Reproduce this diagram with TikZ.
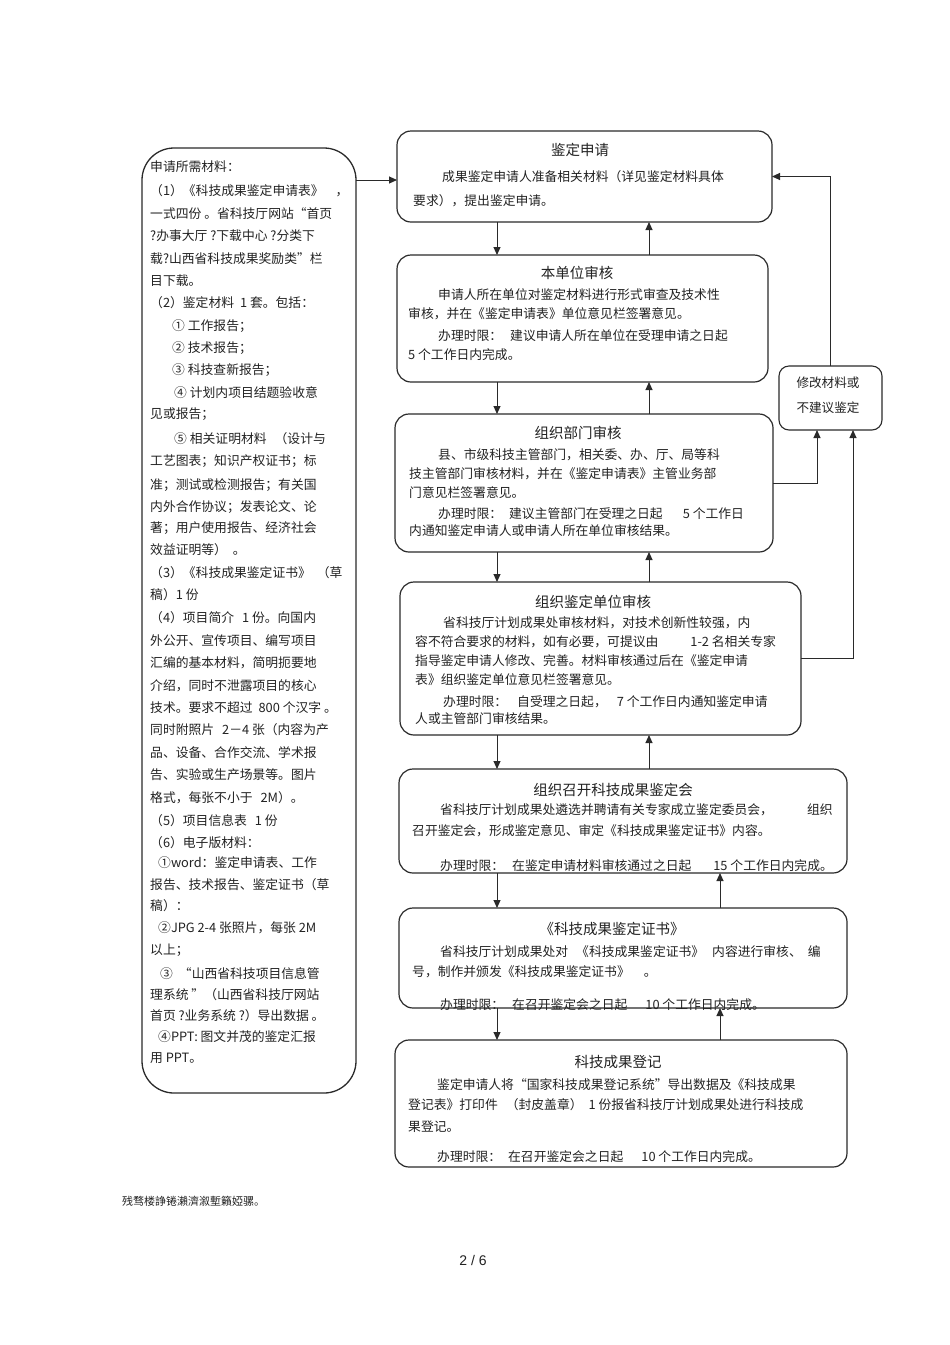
\documentclass[tikz,border=0pt]{standalone}
\usepackage{fontspec}
\setmainfont{Noto Sans CJK SC}
\newfontfamily\latfont{Liberation Sans}
\usetikzlibrary{arrows.meta}
\definecolor{ink}{HTML}{222222}
\definecolor{edge}{HTML}{2A2A2A}
\begin{document}
\begin{tikzpicture}[x=1pt,y=-1pt,
  rbox/.style={draw=edge,line width=1.2pt,rounded corners=14pt,inner sep=0pt,outer sep=0pt},
  sbox/.style={draw=edge,line width=1.1pt,rounded corners=10pt,inner sep=0pt,outer sep=0pt},
  lbox/.style={draw=edge,line width=1.3pt,rounded corners=32pt,inner sep=0pt,outer sep=0pt},
  bt/.style={anchor=west,inner sep=0pt,text=ink,font=\fontsize{12.8}{14}\selectfont},
  ttl/.style={anchor=center,inner sep=0pt,text=ink,font=\fontsize{14.5}{16}\selectfont},
  st/.style={anchor=center,inner sep=0pt,text=ink,font=\fontsize{12.6}{14}\selectfont},
  arr/.style={draw=edge,line width=1pt,-{Triangle[length=8pt,width=7pt]}}]
\useasboundingbox[fill=white] (0,0) rectangle (950,1345);

% boxes
\node[lbox,minimum width=214pt,minimum height=945pt] (left) at (249,620.5) {};
\node[rbox,minimum width=375pt,minimum height=91pt] (b1) at (584.5,176.5) {};
\node[rbox,minimum width=371pt,minimum height=127pt] (b2) at (582.5,318.5) {};
\node[rbox,minimum width=378pt,minimum height=138pt] (b3) at (584,483) {};
\node[rbox,minimum width=401pt,minimum height=153pt] (b4) at (600.5,658.5) {};
\node[rbox,minimum width=448pt,minimum height=104pt] (b5) at (623,821) {};
\node[rbox,minimum width=448pt,minimum height=100pt] (b6) at (623,958) {};
\node[rbox,minimum width=452pt,minimum height=127pt] (b7) at (621,1103.5) {};
\node[sbox,minimum width=103pt,minimum height=64pt] (side) at (830.5,398) {};

% titles
\node[ttl] (t1) at (580,150) {鉴定申请};
\node[ttl] (t2) at (577,273) {本单位审核};
\node[ttl] (t3) at (578,433) {组织部门审核};
\node[ttl] (t4) at (593,602) {组织鉴定单位审核};
\node[ttl] (t5) at (613,790) {组织召开科技成果鉴定会};
\node[ttl] (t6) at (612,929) {《科技成果鉴定证书》};
\node[ttl] (t7) at (618,1062) {科技成果登记};
\node[st] (s1) at (828,383) {修改材料或};
\node[st] (s2) at (828,408) {不建议鉴定};

% left box text
\foreach \y/\x/\t [count=\i] in {
 167/150/{申请所需材料：},
 191/150/{（1）《科技成果鉴定申请表》\hspace{12pt}，},
 214/150/{一式四份 。省科技厅网站“首页},
 236/150/{?办事大厅 ?下载中心 ?分类下},
 259/150/{载?山西省科技成果奖励类”栏},
 281/150/{目下载。},
 303/150/{（2）鉴定材料\hspace{6pt}1 套。包括：},
 326/172/{① 工作报告；},
 348/172/{② 技术报告；},
 370/172/{③ 科技查新报告；},
 393/174/{④ 计划内项目结题验收意},
 414/150/{见或报告；},
 439/174/{⑤ 相关证明材料\hspace{8pt}（设计与},
 461/150/{工艺图表；知识产权证书；标},
 485/150/{准；测试或检测报告；有关国},
 507/150/{内外合作协议；发表论文、论},
 528/150/{著；用户使用报告、经济社会},
 550/150/{效益证明等）\hspace{6pt}。},
 573/150/{（3）《科技成果鉴定证书》\hspace{6pt}（草},
 595/150/{稿）1 份},
 618/150/{（4）项目简介\hspace{8pt}1 份。向国内},
 641/150/{外公开、宣传项目、编写项目},
 663/150/{汇编的基本材料，简明扼要地},
 686/150/{介绍，同时不泄露项目的核心},
 708/150/{技术。要求不超过\hspace{6pt}800 个汉字 。},
 730/150/{同时附照片\hspace{8pt}2－4 张（内容为产},
 753/150/{品、设备、合作交流、学术报},
 775/150/{告、实验或生产场景等。图片},
 798/150/{格式，每张不小于\hspace{8pt}2M）。},
 821/150/{（5）项目信息表\hspace{8pt}1 份},
 843/150/{（6）电子版材料：},
 863/158/{①word：鉴定申请表、工作},
 885/150/{报告、技术报告、鉴定证书（草},
 906/150/{稿）：},
 928/158/{②JPG 2-4 张照片，每张 2M},
 950/150/{以上；},
 974/160/{③\hspace{6pt}“山西省科技项目信息管},
 995/150/{理系统 ”（山西省科技厅网站},
 1016/150/{首页 ?业务系统 ?）导出数据 。},
 1037/158/{④PPT: 图文并茂的鉴定汇报},
 1058/150/{用 PPT。}}
 {\node[bt] (L\i) at (\x,\y) {\t};}

% right box text
\foreach \y/\x/\t [count=\i] in {
 177/442/{成果鉴定申请人准备相关材料（详见鉴定材料具体},
 201/413/{要求），提出鉴定申请。},
 295/438/{申请人所在单位对鉴定材料进行形式审查及技术性},
 314/408/{审核，并在《鉴定申请表》单位意见栏签署意见。},
 336/438/{办理时限：\hspace{8pt}建议申请人所在单位在受理申请之日起},
 355/408/{5 个工作日内完成。},
 455/438/{县、市级科技主管部门，相关委、办、厅、局等科},
 474/409/{技主管部门审核材料，并在《鉴定申请表》主管业务部},
 493/409/{门意见栏签署意见。},
 514/438/{办理时限：\hspace{7pt}建议主管部门在受理之日起\hspace{20pt}5 个工作日},
 531/409/{内通知鉴定申请人或申请人所在单位审核结果。},
 623/443/{省科技厅计划成果处审核材料，对技术创新性较强，内},
 642/415/{容不符合要求的材料，如有必要，可提议由\hspace{32pt}1-2 名相关专家},
 661/415/{指导鉴定申请人修改、完善。材料审核通过后在《鉴定申请},
 680/415/{表》组织鉴定单位意见栏签署意见。},
 702/443/{办理时限：\hspace{10pt}自受理之日起，\hspace{10pt}7 个工作日内通知鉴定申请},
 719/415/{人或主管部门审核结果。},
 810/440/{省科技厅计划成果处遴选并聘请有关专家成立鉴定委员会，\hspace{34pt}组织},
 831/412/{召开鉴定会，形成鉴定意见、审定《科技成果鉴定证书》内容。},
 866/440/{办理时限：\hspace{8pt}在鉴定申请材料审核通过之日起\hspace{22pt}15 个工作日内完成。},
 952/440/{省科技厅计划成果处对\hspace{8pt}《科技成果鉴定证书》\hspace{8pt}内容进行审核、\hspace{6pt}编},
 972/412/{号，制作并颁发《科技成果鉴定证书》\hspace{14pt}。},
 1005/440/{办理时限：\hspace{8pt}在召开鉴定会之日起\hspace{18pt}10 个工作日内完成。},
 1085/437/{鉴定申请人将“国家科技成果登记系统”导出数据及《科技成果},
 1105/408/{登记表》打印件\hspace{8pt}（封皮盖章）\hspace{6pt}1 份报省科技厅计划成果处进行科技成},
 1127/408/{果登记。},
 1157/437/{办理时限：\hspace{7pt}在召开鉴定会之日起\hspace{18pt}10 个工作日内完成。}}
 {\node[bt] (R\i) at (\x,\y) {\t};}

% footer
\node[anchor=west,inner sep=0pt,text=ink,font=\fontsize{11}{12}\selectfont] (foot) at (122,1201) {残骛楼諍锩瀨濟溆塹籟婭骡。};
\node[anchor=center,inner sep=0pt,text=ink,font=\latfont\fontsize{14}{16}\selectfont] (page) at (473,1260) {2 / 6};

% helper coordinates
\coordinate (ya) at (0,180);
\coordinate (xd) at (497,0);
\coordinate (xu) at (649,0);
\coordinate (xv) at (720,0);
\coordinate (xs1) at (817,0);
\coordinate (xs2) at (853,0);

% connectors
\draw[arr] (left.east |- ya) -- (b1.west |- ya);
\draw[arr] (b1.south -| xd) -- (b2.north -| xd);
\draw[arr] (b2.north -| xu) -- (b1.south -| xu);
\draw[arr] (b2.south -| xd) -- (b3.north -| xd);
\draw[arr] (b3.north -| xu) -- (b2.south -| xu);
\draw[arr] (b3.south -| xd) -- (b4.north -| xd);
\draw[arr] (b4.north -| xu) -- (b3.south -| xu);
\draw[arr] (b4.south -| xd) -- (b5.north -| xd);
\draw[arr] (b5.north -| xu) -- (b4.south -| xu);
\draw[arr] (b5.south -| xd) -- (b6.north -| xd);
\draw[arr] (b6.north -| xv) -- (b5.south -| xv);
\draw[arr] (b6.south -| xd) -- (b7.north -| xd);
\draw[arr] (b7.north -| xv) -- (b6.south -| xv);
\draw[arr] (b3.east) -| (side.south -| xs1);
\draw[arr] (b4.east) -| (side.south -| xs2);
\draw[arr] (side.north) |- (b1.east);
\end{tikzpicture}
\end{document}
